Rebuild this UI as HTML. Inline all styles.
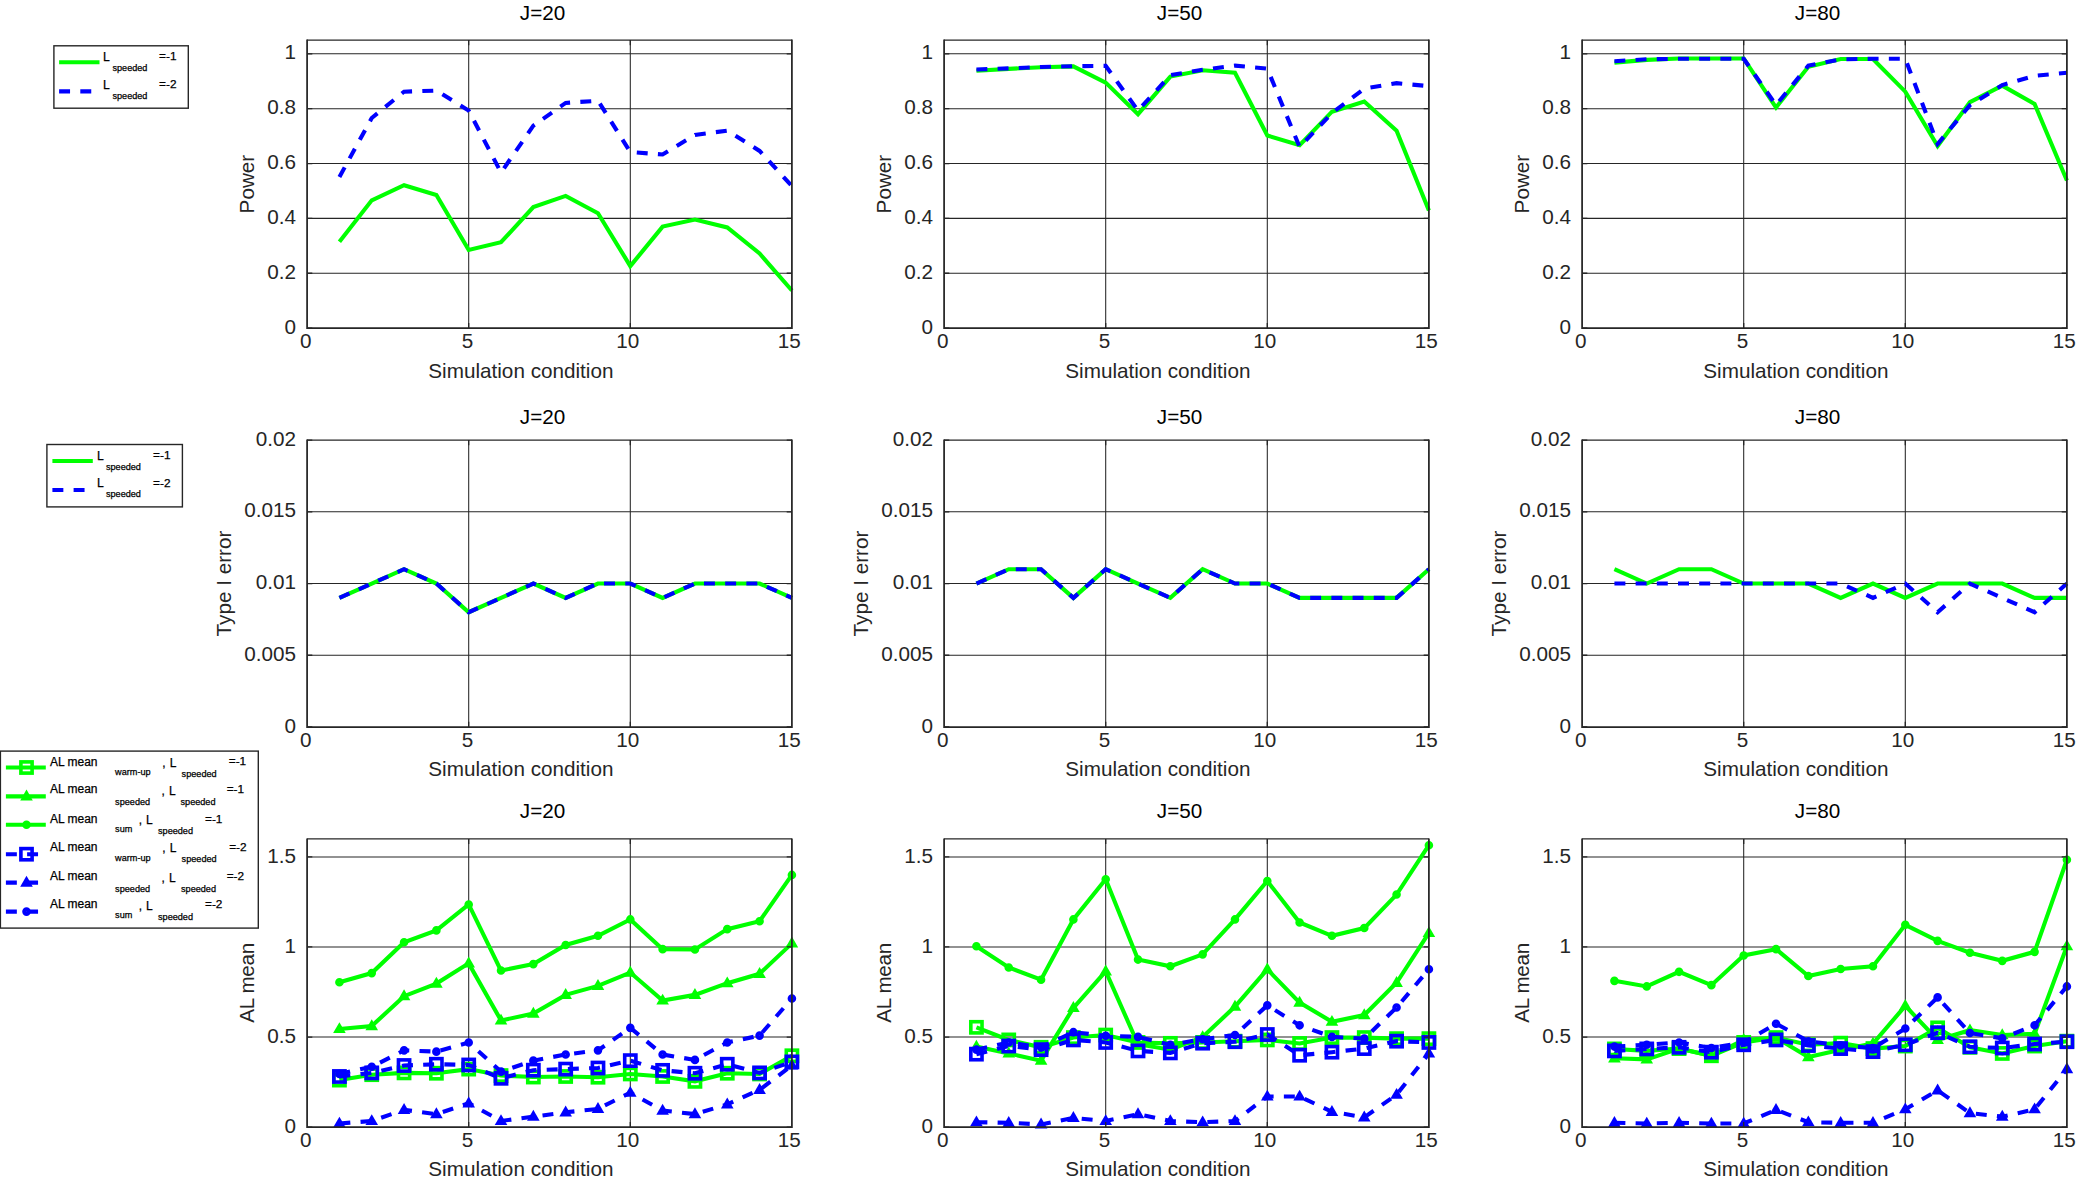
<!DOCTYPE html>
<html lang="en"><head><meta charset="utf-8"><title>Simulation results</title>
<style>html,body{margin:0;padding:0;background:#fff}svg{display:block}</style>
</head><body>
<svg width="2079" height="1183" viewBox="0 0 2079 1183" font-family="'Liberation Sans', Arial, Helvetica, sans-serif">
<rect width="2079" height="1183" fill="#fff"/>
<path d="M468.7 40.1V328.1M630.3 40.1V328.1M307.1 273.24H791.9M307.1 218.39H791.9M307.1 163.53H791.9M307.1 108.67H791.9M307.1 53.81H791.9" stroke="#262626" stroke-width="1.05" fill="none"/>
<clipPath id="c00"><rect x="299.1" y="32.1" width="500.8" height="304"/></clipPath>
<g clip-path="url(#c00)">
<polyline points="339.42,241.7 371.74,200.28 404.06,185.2 436.38,195.07 468.7,249.93 501.02,242.25 533.34,207.14 565.66,195.89 597.98,213.17 630.3,266.11 662.62,226.61 694.94,219.48 727.26,227.44 759.58,253.49 791.9,290.52" fill="none" stroke="#00ff00" stroke-width="4.1" stroke-linejoin="miter"/>
<polyline points="339.42,176.97 371.74,118 404.06,91.67 436.38,90.57 468.7,110.59 501.02,172.58 533.34,125.68 565.66,102.91 597.98,100.72 630.3,152.01 662.62,154.48 694.94,135 727.26,130.61 759.58,150.91 791.9,186.02" fill="none" stroke="#0000ff" stroke-width="4.1" stroke-linejoin="miter" stroke-dasharray="10.95 10.25"/>
</g>
<path d="M468.7 328.1v-5.2M468.7 40.1v5.2M630.3 328.1v-5.2M630.3 40.1v5.2M307.1 328.1h5.2M791.9 328.1h-5.2M307.1 273.24h5.2M791.9 273.24h-5.2M307.1 218.39h5.2M791.9 218.39h-5.2M307.1 163.53h5.2M791.9 163.53h-5.2M307.1 108.67h5.2M791.9 108.67h-5.2M307.1 53.81h5.2M791.9 53.81h-5.2" stroke="#262626" stroke-width="1.3" fill="none"/>
<path d="M307.1 40.1H791.9" fill="none" stroke="#262626" stroke-width="1.2"/>
<path d="M307.1 39.6V328.1H791.9V39.6" fill="none" stroke="#262626" stroke-width="1.75" stroke-linejoin="miter"/>
<text x="305.7" y="347.8" font-size="20.7" text-anchor="middle" fill="#262626">0</text>
<text x="467.4" y="347.8" font-size="20.7" text-anchor="middle" fill="#262626">5</text>
<text x="627.7" y="347.8" font-size="20.7" text-anchor="middle" fill="#262626">10</text>
<text x="789.3" y="347.8" font-size="20.7" text-anchor="middle" fill="#262626">15</text>
<text x="296.1" y="333.7" font-size="20.7" text-anchor="end" fill="#262626">0</text>
<text x="296.1" y="278.84" font-size="20.7" text-anchor="end" fill="#262626">0.2</text>
<text x="296.1" y="223.99" font-size="20.7" text-anchor="end" fill="#262626">0.4</text>
<text x="296.1" y="169.13" font-size="20.7" text-anchor="end" fill="#262626">0.6</text>
<text x="296.1" y="114.27" font-size="20.7" text-anchor="end" fill="#262626">0.8</text>
<text x="296.1" y="59.41" font-size="20.7" text-anchor="end" fill="#262626">1</text>
<text x="519.8" y="20.05" font-size="20.7" text-anchor="start" fill="#000">J=20</text>
<text x="428.3" y="377.8" font-size="20.7" text-anchor="start" fill="#262626">Simulation condition</text>
<text transform="translate(254 184.1) rotate(-90)" font-size="20.7" text-anchor="middle" fill="#262626">Power</text>
<path d="M1105.7 40.1V328.1M1267.3 40.1V328.1M944.1 273.24H1428.9M944.1 218.39H1428.9M944.1 163.53H1428.9M944.1 108.67H1428.9M944.1 53.81H1428.9" stroke="#262626" stroke-width="1.05" fill="none"/>
<clipPath id="c01"><rect x="936.1" y="32.1" width="500.8" height="304"/></clipPath>
<g clip-path="url(#c01)">
<polyline points="976.42,70.82 1008.74,68.9 1041.06,67.25 1073.38,66.43 1105.7,82.61 1138.02,114.16 1170.34,76.58 1202.66,70.27 1234.98,72.74 1267.3,135.55 1299.62,145.15 1331.94,111.69 1364.26,101.54 1396.58,130.61 1428.9,210.43" fill="none" stroke="#00ff00" stroke-width="4.1" stroke-linejoin="miter"/>
<polyline points="976.42,69.45 1008.74,68.35 1041.06,66.98 1073.38,66.16 1105.7,65.88 1138.02,110.59 1170.34,75.21 1202.66,69.72 1234.98,65.61 1267.3,68.63 1299.62,147.07 1331.94,113.06 1364.26,88.65 1396.58,83.16 1428.9,86.18" fill="none" stroke="#0000ff" stroke-width="4.1" stroke-linejoin="miter" stroke-dasharray="10.95 10.25"/>
</g>
<path d="M1105.7 328.1v-5.2M1105.7 40.1v5.2M1267.3 328.1v-5.2M1267.3 40.1v5.2M944.1 328.1h5.2M1428.9 328.1h-5.2M944.1 273.24h5.2M1428.9 273.24h-5.2M944.1 218.39h5.2M1428.9 218.39h-5.2M944.1 163.53h5.2M1428.9 163.53h-5.2M944.1 108.67h5.2M1428.9 108.67h-5.2M944.1 53.81h5.2M1428.9 53.81h-5.2" stroke="#262626" stroke-width="1.3" fill="none"/>
<path d="M944.1 40.1H1428.9" fill="none" stroke="#262626" stroke-width="1.2"/>
<path d="M944.1 39.6V328.1H1428.9V39.6" fill="none" stroke="#262626" stroke-width="1.75" stroke-linejoin="miter"/>
<text x="942.7" y="347.8" font-size="20.7" text-anchor="middle" fill="#262626">0</text>
<text x="1104.4" y="347.8" font-size="20.7" text-anchor="middle" fill="#262626">5</text>
<text x="1264.7" y="347.8" font-size="20.7" text-anchor="middle" fill="#262626">10</text>
<text x="1426.3" y="347.8" font-size="20.7" text-anchor="middle" fill="#262626">15</text>
<text x="933.1" y="333.7" font-size="20.7" text-anchor="end" fill="#262626">0</text>
<text x="933.1" y="278.84" font-size="20.7" text-anchor="end" fill="#262626">0.2</text>
<text x="933.1" y="223.99" font-size="20.7" text-anchor="end" fill="#262626">0.4</text>
<text x="933.1" y="169.13" font-size="20.7" text-anchor="end" fill="#262626">0.6</text>
<text x="933.1" y="114.27" font-size="20.7" text-anchor="end" fill="#262626">0.8</text>
<text x="933.1" y="59.41" font-size="20.7" text-anchor="end" fill="#262626">1</text>
<text x="1156.8" y="20.05" font-size="20.7" text-anchor="start" fill="#000">J=50</text>
<text x="1065.3" y="377.8" font-size="20.7" text-anchor="start" fill="#262626">Simulation condition</text>
<text transform="translate(891 184.1) rotate(-90)" font-size="20.7" text-anchor="middle" fill="#262626">Power</text>
<path d="M1743.7 40.1V328.1M1905.3 40.1V328.1M1582.1 273.24H2066.9M1582.1 218.39H2066.9M1582.1 163.53H2066.9M1582.1 108.67H2066.9M1582.1 53.81H2066.9" stroke="#262626" stroke-width="1.05" fill="none"/>
<clipPath id="c02"><rect x="1574.1" y="32.1" width="500.8" height="304"/></clipPath>
<g clip-path="url(#c02)">
<polyline points="1614.42,62.59 1646.74,59.85 1679.06,58.48 1711.38,58.48 1743.7,58.48 1776.02,107.57 1808.34,66.71 1840.66,59.03 1872.98,59.03 1905.3,91.67 1937.62,145.97 1969.94,102.09 2002.26,85.63 2034.58,104.01 2066.9,180.53" fill="none" stroke="#00ff00" stroke-width="4.1" stroke-linejoin="miter"/>
<polyline points="1614.42,61.22 1646.74,59.3 1679.06,58.75 1711.38,58.75 1743.7,58.75 1776.02,105.11 1808.34,65.61 1840.66,59.3 1872.98,58.75 1905.3,58.75 1937.62,144.05 1969.94,105.11 2002.26,85.08 2034.58,75.76 2066.9,72.74" fill="none" stroke="#0000ff" stroke-width="4.1" stroke-linejoin="miter" stroke-dasharray="10.95 10.25"/>
</g>
<path d="M1743.7 328.1v-5.2M1743.7 40.1v5.2M1905.3 328.1v-5.2M1905.3 40.1v5.2M1582.1 328.1h5.2M2066.9 328.1h-5.2M1582.1 273.24h5.2M2066.9 273.24h-5.2M1582.1 218.39h5.2M2066.9 218.39h-5.2M1582.1 163.53h5.2M2066.9 163.53h-5.2M1582.1 108.67h5.2M2066.9 108.67h-5.2M1582.1 53.81h5.2M2066.9 53.81h-5.2" stroke="#262626" stroke-width="1.3" fill="none"/>
<path d="M1582.1 40.1H2066.9" fill="none" stroke="#262626" stroke-width="1.2"/>
<path d="M1582.1 39.6V328.1H2066.9V39.6" fill="none" stroke="#262626" stroke-width="1.75" stroke-linejoin="miter"/>
<text x="1580.7" y="347.8" font-size="20.7" text-anchor="middle" fill="#262626">0</text>
<text x="1742.4" y="347.8" font-size="20.7" text-anchor="middle" fill="#262626">5</text>
<text x="1902.7" y="347.8" font-size="20.7" text-anchor="middle" fill="#262626">10</text>
<text x="2064.3" y="347.8" font-size="20.7" text-anchor="middle" fill="#262626">15</text>
<text x="1571.1" y="333.7" font-size="20.7" text-anchor="end" fill="#262626">0</text>
<text x="1571.1" y="278.84" font-size="20.7" text-anchor="end" fill="#262626">0.2</text>
<text x="1571.1" y="223.99" font-size="20.7" text-anchor="end" fill="#262626">0.4</text>
<text x="1571.1" y="169.13" font-size="20.7" text-anchor="end" fill="#262626">0.6</text>
<text x="1571.1" y="114.27" font-size="20.7" text-anchor="end" fill="#262626">0.8</text>
<text x="1571.1" y="59.41" font-size="20.7" text-anchor="end" fill="#262626">1</text>
<text x="1794.8" y="20.05" font-size="20.7" text-anchor="start" fill="#000">J=80</text>
<text x="1703.3" y="377.8" font-size="20.7" text-anchor="start" fill="#262626">Simulation condition</text>
<text transform="translate(1529 184.1) rotate(-90)" font-size="20.7" text-anchor="middle" fill="#262626">Power</text>
<path d="M468.7 440.1V727M630.3 440.1V727M307.1 655.27H791.9M307.1 583.55H791.9M307.1 511.83H791.9" stroke="#262626" stroke-width="1.05" fill="none"/>
<clipPath id="c10"><rect x="299.1" y="432.1" width="500.8" height="302.9"/></clipPath>
<g clip-path="url(#c10)">
<polyline points="339.42,597.89 371.74,583.55 404.06,569.21 436.38,583.55 468.7,612.24 501.02,597.89 533.34,583.55 565.66,597.89 597.98,583.55 630.3,583.55 662.62,597.89 694.94,583.55 727.26,583.55 759.58,583.55 791.9,597.89" fill="none" stroke="#00ff00" stroke-width="4.1" stroke-linejoin="miter"/>
<polyline points="339.42,597.89 371.74,583.55 404.06,569.21 436.38,583.55 468.7,612.24 501.02,597.89 533.34,583.55 565.66,597.89 597.98,583.55 630.3,583.55 662.62,597.89 694.94,583.55 727.26,583.55 759.58,583.55 791.9,597.89" fill="none" stroke="#0000ff" stroke-width="4.1" stroke-linejoin="miter" stroke-dasharray="10.95 10.25"/>
</g>
<path d="M468.7 727v-5.2M468.7 440.1v5.2M630.3 727v-5.2M630.3 440.1v5.2M307.1 727h5.2M791.9 727h-5.2M307.1 655.27h5.2M791.9 655.27h-5.2M307.1 583.55h5.2M791.9 583.55h-5.2M307.1 511.83h5.2M791.9 511.83h-5.2M307.1 440.1h5.2M791.9 440.1h-5.2" stroke="#262626" stroke-width="1.3" fill="none"/>
<path d="M307.1 440.1H791.9" fill="none" stroke="#262626" stroke-width="1.2"/>
<path d="M307.1 439.6V727H791.9V439.6" fill="none" stroke="#262626" stroke-width="1.75" stroke-linejoin="miter"/>
<text x="305.7" y="746.7" font-size="20.7" text-anchor="middle" fill="#262626">0</text>
<text x="467.4" y="746.7" font-size="20.7" text-anchor="middle" fill="#262626">5</text>
<text x="627.7" y="746.7" font-size="20.7" text-anchor="middle" fill="#262626">10</text>
<text x="789.3" y="746.7" font-size="20.7" text-anchor="middle" fill="#262626">15</text>
<text x="296.1" y="732.6" font-size="20.7" text-anchor="end" fill="#262626">0</text>
<text x="296.1" y="660.88" font-size="20.7" text-anchor="end" fill="#262626">0.005</text>
<text x="296.1" y="589.15" font-size="20.7" text-anchor="end" fill="#262626">0.01</text>
<text x="296.1" y="517.43" font-size="20.7" text-anchor="end" fill="#262626">0.015</text>
<text x="296.1" y="445.7" font-size="20.7" text-anchor="end" fill="#262626">0.02</text>
<text x="519.8" y="423.95" font-size="20.7" text-anchor="start" fill="#000">J=20</text>
<text x="428.3" y="776" font-size="20.7" text-anchor="start" fill="#262626">Simulation condition</text>
<text transform="translate(231.2 583.55) rotate(-90)" font-size="20.7" text-anchor="middle" fill="#262626">Type I error</text>
<path d="M1105.7 440.1V727M1267.3 440.1V727M944.1 655.27H1428.9M944.1 583.55H1428.9M944.1 511.83H1428.9" stroke="#262626" stroke-width="1.05" fill="none"/>
<clipPath id="c11"><rect x="936.1" y="432.1" width="500.8" height="302.9"/></clipPath>
<g clip-path="url(#c11)">
<polyline points="976.42,583.55 1008.74,569.21 1041.06,569.21 1073.38,597.89 1105.7,569.21 1138.02,583.55 1170.34,597.89 1202.66,569.21 1234.98,583.55 1267.3,583.55 1299.62,597.89 1331.94,597.89 1364.26,597.89 1396.58,597.89 1428.9,569.21" fill="none" stroke="#00ff00" stroke-width="4.1" stroke-linejoin="miter"/>
<polyline points="976.42,583.55 1008.74,569.21 1041.06,569.21 1073.38,597.89 1105.7,569.21 1138.02,583.55 1170.34,597.89 1202.66,569.21 1234.98,583.55 1267.3,583.55 1299.62,597.89 1331.94,597.89 1364.26,597.89 1396.58,597.89 1428.9,569.21" fill="none" stroke="#0000ff" stroke-width="4.1" stroke-linejoin="miter" stroke-dasharray="10.95 10.25"/>
</g>
<path d="M1105.7 727v-5.2M1105.7 440.1v5.2M1267.3 727v-5.2M1267.3 440.1v5.2M944.1 727h5.2M1428.9 727h-5.2M944.1 655.27h5.2M1428.9 655.27h-5.2M944.1 583.55h5.2M1428.9 583.55h-5.2M944.1 511.83h5.2M1428.9 511.83h-5.2M944.1 440.1h5.2M1428.9 440.1h-5.2" stroke="#262626" stroke-width="1.3" fill="none"/>
<path d="M944.1 440.1H1428.9" fill="none" stroke="#262626" stroke-width="1.2"/>
<path d="M944.1 439.6V727H1428.9V439.6" fill="none" stroke="#262626" stroke-width="1.75" stroke-linejoin="miter"/>
<text x="942.7" y="746.7" font-size="20.7" text-anchor="middle" fill="#262626">0</text>
<text x="1104.4" y="746.7" font-size="20.7" text-anchor="middle" fill="#262626">5</text>
<text x="1264.7" y="746.7" font-size="20.7" text-anchor="middle" fill="#262626">10</text>
<text x="1426.3" y="746.7" font-size="20.7" text-anchor="middle" fill="#262626">15</text>
<text x="933.1" y="732.6" font-size="20.7" text-anchor="end" fill="#262626">0</text>
<text x="933.1" y="660.88" font-size="20.7" text-anchor="end" fill="#262626">0.005</text>
<text x="933.1" y="589.15" font-size="20.7" text-anchor="end" fill="#262626">0.01</text>
<text x="933.1" y="517.43" font-size="20.7" text-anchor="end" fill="#262626">0.015</text>
<text x="933.1" y="445.7" font-size="20.7" text-anchor="end" fill="#262626">0.02</text>
<text x="1156.8" y="423.95" font-size="20.7" text-anchor="start" fill="#000">J=50</text>
<text x="1065.3" y="776" font-size="20.7" text-anchor="start" fill="#262626">Simulation condition</text>
<text transform="translate(868.2 583.55) rotate(-90)" font-size="20.7" text-anchor="middle" fill="#262626">Type I error</text>
<path d="M1743.7 440.1V727M1905.3 440.1V727M1582.1 655.27H2066.9M1582.1 583.55H2066.9M1582.1 511.83H2066.9" stroke="#262626" stroke-width="1.05" fill="none"/>
<clipPath id="c12"><rect x="1574.1" y="432.1" width="500.8" height="302.9"/></clipPath>
<g clip-path="url(#c12)">
<polyline points="1614.42,569.21 1646.74,583.55 1679.06,569.21 1711.38,569.21 1743.7,583.55 1776.02,583.55 1808.34,583.55 1840.66,597.89 1872.98,583.55 1905.3,597.89 1937.62,583.55 1969.94,583.55 2002.26,583.55 2034.58,597.89 2066.9,597.89" fill="none" stroke="#00ff00" stroke-width="4.1" stroke-linejoin="miter"/>
<polyline points="1614.42,583.55 1646.74,583.55 1679.06,583.55 1711.38,583.55 1743.7,583.55 1776.02,583.55 1808.34,583.55 1840.66,583.55 1872.98,597.89 1905.3,583.55 1937.62,612.24 1969.94,583.55 2002.26,597.89 2034.58,612.24 2066.9,583.55" fill="none" stroke="#0000ff" stroke-width="4.1" stroke-linejoin="miter" stroke-dasharray="10.95 10.25"/>
</g>
<path d="M1743.7 727v-5.2M1743.7 440.1v5.2M1905.3 727v-5.2M1905.3 440.1v5.2M1582.1 727h5.2M2066.9 727h-5.2M1582.1 655.27h5.2M2066.9 655.27h-5.2M1582.1 583.55h5.2M2066.9 583.55h-5.2M1582.1 511.83h5.2M2066.9 511.83h-5.2M1582.1 440.1h5.2M2066.9 440.1h-5.2" stroke="#262626" stroke-width="1.3" fill="none"/>
<path d="M1582.1 440.1H2066.9" fill="none" stroke="#262626" stroke-width="1.2"/>
<path d="M1582.1 439.6V727H2066.9V439.6" fill="none" stroke="#262626" stroke-width="1.75" stroke-linejoin="miter"/>
<text x="1580.7" y="746.7" font-size="20.7" text-anchor="middle" fill="#262626">0</text>
<text x="1742.4" y="746.7" font-size="20.7" text-anchor="middle" fill="#262626">5</text>
<text x="1902.7" y="746.7" font-size="20.7" text-anchor="middle" fill="#262626">10</text>
<text x="2064.3" y="746.7" font-size="20.7" text-anchor="middle" fill="#262626">15</text>
<text x="1571.1" y="732.6" font-size="20.7" text-anchor="end" fill="#262626">0</text>
<text x="1571.1" y="660.88" font-size="20.7" text-anchor="end" fill="#262626">0.005</text>
<text x="1571.1" y="589.15" font-size="20.7" text-anchor="end" fill="#262626">0.01</text>
<text x="1571.1" y="517.43" font-size="20.7" text-anchor="end" fill="#262626">0.015</text>
<text x="1571.1" y="445.7" font-size="20.7" text-anchor="end" fill="#262626">0.02</text>
<text x="1794.8" y="423.95" font-size="20.7" text-anchor="start" fill="#000">J=80</text>
<text x="1703.3" y="776" font-size="20.7" text-anchor="start" fill="#262626">Simulation condition</text>
<text transform="translate(1506.2 583.55) rotate(-90)" font-size="20.7" text-anchor="middle" fill="#262626">Type I error</text>
<path d="M468.7 838.9V1127.1M630.3 838.9V1127.1M307.1 1037.04H791.9M307.1 946.97H791.9M307.1 856.91H791.9" stroke="#262626" stroke-width="1.05" fill="none"/>
<clipPath id="c20"><rect x="299.1" y="830.9" width="500.8" height="304.2"/></clipPath>
<g clip-path="url(#c20)">
<polyline points="339.42,1080.09 371.74,1074.68 404.06,1072.88 436.38,1073.24 468.7,1069.1 501.02,1075.58 533.34,1077.03 565.66,1076.48 597.98,1077.21 630.3,1073.96 662.62,1076.48 694.94,1081.35 727.26,1073.24 759.58,1073.96 791.9,1055.77" fill="none" stroke="#00ff00" stroke-width="4.1" stroke-linejoin="miter"/>
<rect x="333.82" y="1074.49" width="11.2" height="11.2" fill="none" stroke="#00ff00" stroke-width="3.6"/>
<rect x="366.14" y="1069.08" width="11.2" height="11.2" fill="none" stroke="#00ff00" stroke-width="3.6"/>
<rect x="398.46" y="1067.28" width="11.2" height="11.2" fill="none" stroke="#00ff00" stroke-width="3.6"/>
<rect x="430.78" y="1067.64" width="11.2" height="11.2" fill="none" stroke="#00ff00" stroke-width="3.6"/>
<rect x="463.1" y="1063.5" width="11.2" height="11.2" fill="none" stroke="#00ff00" stroke-width="3.6"/>
<rect x="495.42" y="1069.98" width="11.2" height="11.2" fill="none" stroke="#00ff00" stroke-width="3.6"/>
<rect x="527.74" y="1071.43" width="11.2" height="11.2" fill="none" stroke="#00ff00" stroke-width="3.6"/>
<rect x="560.06" y="1070.88" width="11.2" height="11.2" fill="none" stroke="#00ff00" stroke-width="3.6"/>
<rect x="592.38" y="1071.61" width="11.2" height="11.2" fill="none" stroke="#00ff00" stroke-width="3.6"/>
<rect x="624.7" y="1068.36" width="11.2" height="11.2" fill="none" stroke="#00ff00" stroke-width="3.6"/>
<rect x="657.02" y="1070.88" width="11.2" height="11.2" fill="none" stroke="#00ff00" stroke-width="3.6"/>
<rect x="689.34" y="1075.75" width="11.2" height="11.2" fill="none" stroke="#00ff00" stroke-width="3.6"/>
<rect x="721.66" y="1067.64" width="11.2" height="11.2" fill="none" stroke="#00ff00" stroke-width="3.6"/>
<rect x="753.98" y="1068.36" width="11.2" height="11.2" fill="none" stroke="#00ff00" stroke-width="3.6"/>
<rect x="786.3" y="1050.17" width="11.2" height="11.2" fill="none" stroke="#00ff00" stroke-width="3.6"/>
<polyline points="339.42,1028.93 371.74,1026.05 404.06,996.15 436.38,983.54 468.7,963.37 501.02,1020.47 533.34,1013.62 565.66,994.89 597.98,985.88 630.3,972.55 662.62,1000.47 694.94,994.89 727.26,983.18 759.58,973.81 791.9,943.37" fill="none" stroke="#00ff00" stroke-width="4.1" stroke-linejoin="miter"/>
<path d="M339.42 1022.13L345.72 1033.03H333.12Z" fill="#00ff00"/>
<path d="M371.74 1019.25L378.04 1030.15H365.44Z" fill="#00ff00"/>
<path d="M404.06 989.35L410.36 1000.25H397.76Z" fill="#00ff00"/>
<path d="M436.38 976.74L442.68 987.64H430.08Z" fill="#00ff00"/>
<path d="M468.7 956.57L475 967.47H462.4Z" fill="#00ff00"/>
<path d="M501.02 1013.67L507.32 1024.57H494.72Z" fill="#00ff00"/>
<path d="M533.34 1006.82L539.64 1017.72H527.04Z" fill="#00ff00"/>
<path d="M565.66 988.09L571.96 998.99H559.36Z" fill="#00ff00"/>
<path d="M597.98 979.08L604.28 989.98H591.68Z" fill="#00ff00"/>
<path d="M630.3 965.75L636.6 976.65H624Z" fill="#00ff00"/>
<path d="M662.62 993.67L668.92 1004.57H656.32Z" fill="#00ff00"/>
<path d="M694.94 988.09L701.24 998.99H688.64Z" fill="#00ff00"/>
<path d="M727.26 976.38L733.56 987.28H720.96Z" fill="#00ff00"/>
<path d="M759.58 967.01L765.88 977.91H753.28Z" fill="#00ff00"/>
<path d="M791.9 936.57L798.2 947.47H785.6Z" fill="#00ff00"/>
<polyline points="339.42,982.28 371.74,973.09 404.06,942.29 436.38,930.4 468.7,904.47 501.02,970.57 533.34,964.09 565.66,944.99 597.98,935.81 630.3,919.42 662.62,949.14 694.94,949.5 727.26,929.14 759.58,921.22 791.9,874.92" fill="none" stroke="#00ff00" stroke-width="4.1" stroke-linejoin="miter"/>
<circle cx="339.42" cy="982.28" r="2.25" fill="none" stroke="#00ff00" stroke-width="4.1"/>
<circle cx="371.74" cy="973.09" r="2.25" fill="none" stroke="#00ff00" stroke-width="4.1"/>
<circle cx="404.06" cy="942.29" r="2.25" fill="none" stroke="#00ff00" stroke-width="4.1"/>
<circle cx="436.38" cy="930.4" r="2.25" fill="none" stroke="#00ff00" stroke-width="4.1"/>
<circle cx="468.7" cy="904.47" r="2.25" fill="none" stroke="#00ff00" stroke-width="4.1"/>
<circle cx="501.02" cy="970.57" r="2.25" fill="none" stroke="#00ff00" stroke-width="4.1"/>
<circle cx="533.34" cy="964.09" r="2.25" fill="none" stroke="#00ff00" stroke-width="4.1"/>
<circle cx="565.66" cy="944.99" r="2.25" fill="none" stroke="#00ff00" stroke-width="4.1"/>
<circle cx="597.98" cy="935.81" r="2.25" fill="none" stroke="#00ff00" stroke-width="4.1"/>
<circle cx="630.3" cy="919.42" r="2.25" fill="none" stroke="#00ff00" stroke-width="4.1"/>
<circle cx="662.62" cy="949.14" r="2.25" fill="none" stroke="#00ff00" stroke-width="4.1"/>
<circle cx="694.94" cy="949.5" r="2.25" fill="none" stroke="#00ff00" stroke-width="4.1"/>
<circle cx="727.26" cy="929.14" r="2.25" fill="none" stroke="#00ff00" stroke-width="4.1"/>
<circle cx="759.58" cy="921.22" r="2.25" fill="none" stroke="#00ff00" stroke-width="4.1"/>
<circle cx="791.9" cy="874.92" r="2.25" fill="none" stroke="#00ff00" stroke-width="4.1"/>
<polyline points="339.42,1076.48 371.74,1072.88 404.06,1065.5 436.38,1064.24 468.7,1064.96 501.02,1078.29 533.34,1070.18 565.66,1069.1 597.98,1068.02 630.3,1060.63 662.62,1070.36 694.94,1073.24 727.26,1064.24 759.58,1072.88 791.9,1061.89" fill="none" stroke="#0000ff" stroke-width="4.1" stroke-linejoin="miter" stroke-dasharray="10.95 10.25"/>
<rect x="333.82" y="1070.88" width="11.2" height="11.2" fill="none" stroke="#0000ff" stroke-width="3.6"/>
<rect x="366.14" y="1067.28" width="11.2" height="11.2" fill="none" stroke="#0000ff" stroke-width="3.6"/>
<rect x="398.46" y="1059.9" width="11.2" height="11.2" fill="none" stroke="#0000ff" stroke-width="3.6"/>
<rect x="430.78" y="1058.64" width="11.2" height="11.2" fill="none" stroke="#0000ff" stroke-width="3.6"/>
<rect x="463.1" y="1059.36" width="11.2" height="11.2" fill="none" stroke="#0000ff" stroke-width="3.6"/>
<rect x="495.42" y="1072.69" width="11.2" height="11.2" fill="none" stroke="#0000ff" stroke-width="3.6"/>
<rect x="527.74" y="1064.58" width="11.2" height="11.2" fill="none" stroke="#0000ff" stroke-width="3.6"/>
<rect x="560.06" y="1063.5" width="11.2" height="11.2" fill="none" stroke="#0000ff" stroke-width="3.6"/>
<rect x="592.38" y="1062.42" width="11.2" height="11.2" fill="none" stroke="#0000ff" stroke-width="3.6"/>
<rect x="624.7" y="1055.03" width="11.2" height="11.2" fill="none" stroke="#0000ff" stroke-width="3.6"/>
<rect x="657.02" y="1064.76" width="11.2" height="11.2" fill="none" stroke="#0000ff" stroke-width="3.6"/>
<rect x="689.34" y="1067.64" width="11.2" height="11.2" fill="none" stroke="#0000ff" stroke-width="3.6"/>
<rect x="721.66" y="1058.64" width="11.2" height="11.2" fill="none" stroke="#0000ff" stroke-width="3.6"/>
<rect x="753.98" y="1067.28" width="11.2" height="11.2" fill="none" stroke="#0000ff" stroke-width="3.6"/>
<rect x="786.3" y="1056.29" width="11.2" height="11.2" fill="none" stroke="#0000ff" stroke-width="3.6"/>
<polyline points="339.42,1123.5 371.74,1120.98 404.06,1109.81 436.38,1114.13 468.7,1103.32 501.02,1120.98 533.34,1116.65 565.66,1112.33 597.98,1108.91 630.3,1092.7 662.62,1110.53 694.94,1114.13 727.26,1104.4 759.58,1089.81 791.9,1065.5" fill="none" stroke="#0000ff" stroke-width="4.1" stroke-linejoin="miter" stroke-dasharray="10.95 10.25"/>
<path d="M339.42 1116.7L345.72 1127.6H333.12Z" fill="#0000ff"/>
<path d="M371.74 1114.18L378.04 1125.08H365.44Z" fill="#0000ff"/>
<path d="M404.06 1103.01L410.36 1113.91H397.76Z" fill="#0000ff"/>
<path d="M436.38 1107.33L442.68 1118.23H430.08Z" fill="#0000ff"/>
<path d="M468.7 1096.52L475 1107.42H462.4Z" fill="#0000ff"/>
<path d="M501.02 1114.18L507.32 1125.08H494.72Z" fill="#0000ff"/>
<path d="M533.34 1109.85L539.64 1120.75H527.04Z" fill="#0000ff"/>
<path d="M565.66 1105.53L571.96 1116.43H559.36Z" fill="#0000ff"/>
<path d="M597.98 1102.11L604.28 1113.01H591.68Z" fill="#0000ff"/>
<path d="M630.3 1085.9L636.6 1096.8H624Z" fill="#0000ff"/>
<path d="M662.62 1103.73L668.92 1114.63H656.32Z" fill="#0000ff"/>
<path d="M694.94 1107.33L701.24 1118.23H688.64Z" fill="#0000ff"/>
<path d="M727.26 1097.6L733.56 1108.5H720.96Z" fill="#0000ff"/>
<path d="M759.58 1083.01L765.88 1093.91H753.28Z" fill="#0000ff"/>
<path d="M791.9 1058.7L798.2 1069.6H785.6Z" fill="#0000ff"/>
<polyline points="339.42,1073.96 371.74,1066.76 404.06,1050.37 436.38,1051.63 468.7,1042.44 501.02,1071.62 533.34,1060.63 565.66,1054.51 597.98,1050.37 630.3,1027.85 662.62,1054.51 694.94,1059.91 727.26,1042.44 759.58,1035.6 791.9,998.49" fill="none" stroke="#0000ff" stroke-width="4.1" stroke-linejoin="miter" stroke-dasharray="10.95 10.25"/>
<circle cx="339.42" cy="1073.96" r="2.25" fill="none" stroke="#0000ff" stroke-width="4.1"/>
<circle cx="371.74" cy="1066.76" r="2.25" fill="none" stroke="#0000ff" stroke-width="4.1"/>
<circle cx="404.06" cy="1050.37" r="2.25" fill="none" stroke="#0000ff" stroke-width="4.1"/>
<circle cx="436.38" cy="1051.63" r="2.25" fill="none" stroke="#0000ff" stroke-width="4.1"/>
<circle cx="468.7" cy="1042.44" r="2.25" fill="none" stroke="#0000ff" stroke-width="4.1"/>
<circle cx="501.02" cy="1071.62" r="2.25" fill="none" stroke="#0000ff" stroke-width="4.1"/>
<circle cx="533.34" cy="1060.63" r="2.25" fill="none" stroke="#0000ff" stroke-width="4.1"/>
<circle cx="565.66" cy="1054.51" r="2.25" fill="none" stroke="#0000ff" stroke-width="4.1"/>
<circle cx="597.98" cy="1050.37" r="2.25" fill="none" stroke="#0000ff" stroke-width="4.1"/>
<circle cx="630.3" cy="1027.85" r="2.25" fill="none" stroke="#0000ff" stroke-width="4.1"/>
<circle cx="662.62" cy="1054.51" r="2.25" fill="none" stroke="#0000ff" stroke-width="4.1"/>
<circle cx="694.94" cy="1059.91" r="2.25" fill="none" stroke="#0000ff" stroke-width="4.1"/>
<circle cx="727.26" cy="1042.44" r="2.25" fill="none" stroke="#0000ff" stroke-width="4.1"/>
<circle cx="759.58" cy="1035.6" r="2.25" fill="none" stroke="#0000ff" stroke-width="4.1"/>
<circle cx="791.9" cy="998.49" r="2.25" fill="none" stroke="#0000ff" stroke-width="4.1"/>
</g>
<path d="M468.7 1127.1v-5.2M468.7 838.9v5.2M630.3 1127.1v-5.2M630.3 838.9v5.2M307.1 1127.1h5.2M791.9 1127.1h-5.2M307.1 1037.04h5.2M791.9 1037.04h-5.2M307.1 946.97h5.2M791.9 946.97h-5.2M307.1 856.91h5.2M791.9 856.91h-5.2" stroke="#262626" stroke-width="1.3" fill="none"/>
<path d="M307.1 838.9H791.9" fill="none" stroke="#262626" stroke-width="1.2"/>
<path d="M307.1 838.4V1127.1H791.9V838.4" fill="none" stroke="#262626" stroke-width="1.75" stroke-linejoin="miter"/>
<text x="305.7" y="1146.8" font-size="20.7" text-anchor="middle" fill="#262626">0</text>
<text x="467.4" y="1146.8" font-size="20.7" text-anchor="middle" fill="#262626">5</text>
<text x="627.7" y="1146.8" font-size="20.7" text-anchor="middle" fill="#262626">10</text>
<text x="789.3" y="1146.8" font-size="20.7" text-anchor="middle" fill="#262626">15</text>
<text x="296.1" y="1132.7" font-size="20.7" text-anchor="end" fill="#262626">0</text>
<text x="296.1" y="1042.64" font-size="20.7" text-anchor="end" fill="#262626">0.5</text>
<text x="296.1" y="952.57" font-size="20.7" text-anchor="end" fill="#262626">1</text>
<text x="296.1" y="862.51" font-size="20.7" text-anchor="end" fill="#262626">1.5</text>
<text x="519.8" y="817.95" font-size="20.7" text-anchor="start" fill="#000">J=20</text>
<text x="428.3" y="1175.7" font-size="20.7" text-anchor="start" fill="#262626">Simulation condition</text>
<text transform="translate(254 983) rotate(-90)" font-size="20.7" text-anchor="middle" fill="#262626" letter-spacing="-0.35">AL mean</text>
<path d="M1105.7 838.9V1127.1M1267.3 838.9V1127.1M944.1 1037.04H1428.9M944.1 946.97H1428.9M944.1 856.91H1428.9" stroke="#262626" stroke-width="1.05" fill="none"/>
<clipPath id="c21"><rect x="936.1" y="830.9" width="500.8" height="304.2"/></clipPath>
<g clip-path="url(#c21)">
<polyline points="976.42,1027.31 1008.74,1039.92 1041.06,1047.3 1073.38,1037.58 1105.7,1035.06 1138.02,1042.44 1170.34,1043.34 1202.66,1042.44 1234.98,1041.18 1267.3,1039.92 1299.62,1043.52 1331.94,1037.58 1364.26,1037.58 1396.58,1038.66 1428.9,1038.66" fill="none" stroke="#00ff00" stroke-width="4.1" stroke-linejoin="miter"/>
<rect x="970.82" y="1021.71" width="11.2" height="11.2" fill="none" stroke="#00ff00" stroke-width="3.6"/>
<rect x="1003.14" y="1034.32" width="11.2" height="11.2" fill="none" stroke="#00ff00" stroke-width="3.6"/>
<rect x="1035.46" y="1041.7" width="11.2" height="11.2" fill="none" stroke="#00ff00" stroke-width="3.6"/>
<rect x="1067.78" y="1031.98" width="11.2" height="11.2" fill="none" stroke="#00ff00" stroke-width="3.6"/>
<rect x="1100.1" y="1029.46" width="11.2" height="11.2" fill="none" stroke="#00ff00" stroke-width="3.6"/>
<rect x="1132.42" y="1036.84" width="11.2" height="11.2" fill="none" stroke="#00ff00" stroke-width="3.6"/>
<rect x="1164.74" y="1037.74" width="11.2" height="11.2" fill="none" stroke="#00ff00" stroke-width="3.6"/>
<rect x="1197.06" y="1036.84" width="11.2" height="11.2" fill="none" stroke="#00ff00" stroke-width="3.6"/>
<rect x="1229.38" y="1035.58" width="11.2" height="11.2" fill="none" stroke="#00ff00" stroke-width="3.6"/>
<rect x="1261.7" y="1034.32" width="11.2" height="11.2" fill="none" stroke="#00ff00" stroke-width="3.6"/>
<rect x="1294.02" y="1037.92" width="11.2" height="11.2" fill="none" stroke="#00ff00" stroke-width="3.6"/>
<rect x="1326.34" y="1031.98" width="11.2" height="11.2" fill="none" stroke="#00ff00" stroke-width="3.6"/>
<rect x="1358.66" y="1031.98" width="11.2" height="11.2" fill="none" stroke="#00ff00" stroke-width="3.6"/>
<rect x="1390.98" y="1033.06" width="11.2" height="11.2" fill="none" stroke="#00ff00" stroke-width="3.6"/>
<rect x="1423.3" y="1033.06" width="11.2" height="11.2" fill="none" stroke="#00ff00" stroke-width="3.6"/>
<polyline points="976.42,1046.58 1008.74,1053.43 1041.06,1060.63 1073.38,1007.86 1105.7,971.29 1138.02,1044.24 1170.34,1049.65 1202.66,1037.04 1234.98,1006.6 1267.3,969.31 1299.62,1002.63 1331.94,1021.73 1364.26,1015.06 1396.58,982.82 1428.9,932.93" fill="none" stroke="#00ff00" stroke-width="4.1" stroke-linejoin="miter"/>
<path d="M976.42 1039.78L982.72 1050.68H970.12Z" fill="#00ff00"/>
<path d="M1008.74 1046.63L1015.04 1057.53H1002.44Z" fill="#00ff00"/>
<path d="M1041.06 1053.83L1047.36 1064.73H1034.76Z" fill="#00ff00"/>
<path d="M1073.38 1001.06L1079.68 1011.96H1067.08Z" fill="#00ff00"/>
<path d="M1105.7 964.49L1112 975.39H1099.4Z" fill="#00ff00"/>
<path d="M1138.02 1037.44L1144.32 1048.34H1131.72Z" fill="#00ff00"/>
<path d="M1170.34 1042.85L1176.64 1053.75H1164.04Z" fill="#00ff00"/>
<path d="M1202.66 1030.24L1208.96 1041.14H1196.36Z" fill="#00ff00"/>
<path d="M1234.98 999.8L1241.28 1010.7H1228.68Z" fill="#00ff00"/>
<path d="M1267.3 962.51L1273.6 973.41H1261Z" fill="#00ff00"/>
<path d="M1299.62 995.83L1305.92 1006.73H1293.32Z" fill="#00ff00"/>
<path d="M1331.94 1014.93L1338.24 1025.83H1325.64Z" fill="#00ff00"/>
<path d="M1364.26 1008.26L1370.56 1019.16H1357.96Z" fill="#00ff00"/>
<path d="M1396.58 976.02L1402.88 986.92H1390.28Z" fill="#00ff00"/>
<path d="M1428.9 926.13L1435.2 937.03H1422.6Z" fill="#00ff00"/>
<polyline points="976.42,946.25 1008.74,967.51 1041.06,979.76 1073.38,919.42 1105.7,879.25 1138.02,959.58 1170.34,966.25 1202.66,954.36 1234.98,919.42 1267.3,881.05 1299.62,922.48 1331.94,935.81 1364.26,928.06 1396.58,894.56 1428.9,845.2" fill="none" stroke="#00ff00" stroke-width="4.1" stroke-linejoin="miter"/>
<circle cx="976.42" cy="946.25" r="2.25" fill="none" stroke="#00ff00" stroke-width="4.1"/>
<circle cx="1008.74" cy="967.51" r="2.25" fill="none" stroke="#00ff00" stroke-width="4.1"/>
<circle cx="1041.06" cy="979.76" r="2.25" fill="none" stroke="#00ff00" stroke-width="4.1"/>
<circle cx="1073.38" cy="919.42" r="2.25" fill="none" stroke="#00ff00" stroke-width="4.1"/>
<circle cx="1105.7" cy="879.25" r="2.25" fill="none" stroke="#00ff00" stroke-width="4.1"/>
<circle cx="1138.02" cy="959.58" r="2.25" fill="none" stroke="#00ff00" stroke-width="4.1"/>
<circle cx="1170.34" cy="966.25" r="2.25" fill="none" stroke="#00ff00" stroke-width="4.1"/>
<circle cx="1202.66" cy="954.36" r="2.25" fill="none" stroke="#00ff00" stroke-width="4.1"/>
<circle cx="1234.98" cy="919.42" r="2.25" fill="none" stroke="#00ff00" stroke-width="4.1"/>
<circle cx="1267.3" cy="881.05" r="2.25" fill="none" stroke="#00ff00" stroke-width="4.1"/>
<circle cx="1299.62" cy="922.48" r="2.25" fill="none" stroke="#00ff00" stroke-width="4.1"/>
<circle cx="1331.94" cy="935.81" r="2.25" fill="none" stroke="#00ff00" stroke-width="4.1"/>
<circle cx="1364.26" cy="928.06" r="2.25" fill="none" stroke="#00ff00" stroke-width="4.1"/>
<circle cx="1396.58" cy="894.56" r="2.25" fill="none" stroke="#00ff00" stroke-width="4.1"/>
<circle cx="1428.9" cy="845.2" r="2.25" fill="none" stroke="#00ff00" stroke-width="4.1"/>
<polyline points="976.42,1054.15 1008.74,1046.04 1041.06,1049.65 1073.38,1039.92 1105.7,1042.44 1138.02,1050.91 1170.34,1052.89 1202.66,1043.16 1234.98,1041.72 1267.3,1034.52 1299.62,1055.23 1331.94,1052.17 1364.26,1048.57 1396.58,1041.18 1428.9,1042.44" fill="none" stroke="#0000ff" stroke-width="4.1" stroke-linejoin="miter" stroke-dasharray="10.95 10.25"/>
<rect x="970.82" y="1048.55" width="11.2" height="11.2" fill="none" stroke="#0000ff" stroke-width="3.6"/>
<rect x="1003.14" y="1040.44" width="11.2" height="11.2" fill="none" stroke="#0000ff" stroke-width="3.6"/>
<rect x="1035.46" y="1044.05" width="11.2" height="11.2" fill="none" stroke="#0000ff" stroke-width="3.6"/>
<rect x="1067.78" y="1034.32" width="11.2" height="11.2" fill="none" stroke="#0000ff" stroke-width="3.6"/>
<rect x="1100.1" y="1036.84" width="11.2" height="11.2" fill="none" stroke="#0000ff" stroke-width="3.6"/>
<rect x="1132.42" y="1045.31" width="11.2" height="11.2" fill="none" stroke="#0000ff" stroke-width="3.6"/>
<rect x="1164.74" y="1047.29" width="11.2" height="11.2" fill="none" stroke="#0000ff" stroke-width="3.6"/>
<rect x="1197.06" y="1037.56" width="11.2" height="11.2" fill="none" stroke="#0000ff" stroke-width="3.6"/>
<rect x="1229.38" y="1036.12" width="11.2" height="11.2" fill="none" stroke="#0000ff" stroke-width="3.6"/>
<rect x="1261.7" y="1028.92" width="11.2" height="11.2" fill="none" stroke="#0000ff" stroke-width="3.6"/>
<rect x="1294.02" y="1049.63" width="11.2" height="11.2" fill="none" stroke="#0000ff" stroke-width="3.6"/>
<rect x="1326.34" y="1046.57" width="11.2" height="11.2" fill="none" stroke="#0000ff" stroke-width="3.6"/>
<rect x="1358.66" y="1042.97" width="11.2" height="11.2" fill="none" stroke="#0000ff" stroke-width="3.6"/>
<rect x="1390.98" y="1035.58" width="11.2" height="11.2" fill="none" stroke="#0000ff" stroke-width="3.6"/>
<rect x="1423.3" y="1036.84" width="11.2" height="11.2" fill="none" stroke="#0000ff" stroke-width="3.6"/>
<polyline points="976.42,1122.24 1008.74,1122.78 1041.06,1124.4 1073.38,1117.91 1105.7,1120.98 1138.02,1114.13 1170.34,1120.98 1202.66,1122.24 1234.98,1120.98 1267.3,1096.48 1299.62,1096.48 1331.94,1111.79 1364.26,1117.37 1396.58,1094.68 1428.9,1053.43" fill="none" stroke="#0000ff" stroke-width="4.1" stroke-linejoin="miter" stroke-dasharray="10.95 10.25"/>
<path d="M976.42 1115.44L982.72 1126.34H970.12Z" fill="#0000ff"/>
<path d="M1008.74 1115.98L1015.04 1126.88H1002.44Z" fill="#0000ff"/>
<path d="M1041.06 1117.6L1047.36 1128.5H1034.76Z" fill="#0000ff"/>
<path d="M1073.38 1111.11L1079.68 1122.01H1067.08Z" fill="#0000ff"/>
<path d="M1105.7 1114.18L1112 1125.08H1099.4Z" fill="#0000ff"/>
<path d="M1138.02 1107.33L1144.32 1118.23H1131.72Z" fill="#0000ff"/>
<path d="M1170.34 1114.18L1176.64 1125.08H1164.04Z" fill="#0000ff"/>
<path d="M1202.66 1115.44L1208.96 1126.34H1196.36Z" fill="#0000ff"/>
<path d="M1234.98 1114.18L1241.28 1125.08H1228.68Z" fill="#0000ff"/>
<path d="M1267.3 1089.68L1273.6 1100.58H1261Z" fill="#0000ff"/>
<path d="M1299.62 1089.68L1305.92 1100.58H1293.32Z" fill="#0000ff"/>
<path d="M1331.94 1104.99L1338.24 1115.89H1325.64Z" fill="#0000ff"/>
<path d="M1364.26 1110.57L1370.56 1121.47H1357.96Z" fill="#0000ff"/>
<path d="M1396.58 1087.88L1402.88 1098.78H1390.28Z" fill="#0000ff"/>
<path d="M1428.9 1046.63L1435.2 1057.53H1422.6Z" fill="#0000ff"/>
<polyline points="976.42,1049.65 1008.74,1042.44 1041.06,1047.3 1073.38,1032.17 1105.7,1035.78 1138.02,1036.86 1170.34,1044.78 1202.66,1039.2 1234.98,1035.06 1267.3,1005.34 1299.62,1025.33 1331.94,1036.86 1364.26,1038.66 1396.58,1007.5 1428.9,969.31" fill="none" stroke="#0000ff" stroke-width="4.1" stroke-linejoin="miter" stroke-dasharray="10.95 10.25"/>
<circle cx="976.42" cy="1049.65" r="2.25" fill="none" stroke="#0000ff" stroke-width="4.1"/>
<circle cx="1008.74" cy="1042.44" r="2.25" fill="none" stroke="#0000ff" stroke-width="4.1"/>
<circle cx="1041.06" cy="1047.3" r="2.25" fill="none" stroke="#0000ff" stroke-width="4.1"/>
<circle cx="1073.38" cy="1032.17" r="2.25" fill="none" stroke="#0000ff" stroke-width="4.1"/>
<circle cx="1105.7" cy="1035.78" r="2.25" fill="none" stroke="#0000ff" stroke-width="4.1"/>
<circle cx="1138.02" cy="1036.86" r="2.25" fill="none" stroke="#0000ff" stroke-width="4.1"/>
<circle cx="1170.34" cy="1044.78" r="2.25" fill="none" stroke="#0000ff" stroke-width="4.1"/>
<circle cx="1202.66" cy="1039.2" r="2.25" fill="none" stroke="#0000ff" stroke-width="4.1"/>
<circle cx="1234.98" cy="1035.06" r="2.25" fill="none" stroke="#0000ff" stroke-width="4.1"/>
<circle cx="1267.3" cy="1005.34" r="2.25" fill="none" stroke="#0000ff" stroke-width="4.1"/>
<circle cx="1299.62" cy="1025.33" r="2.25" fill="none" stroke="#0000ff" stroke-width="4.1"/>
<circle cx="1331.94" cy="1036.86" r="2.25" fill="none" stroke="#0000ff" stroke-width="4.1"/>
<circle cx="1364.26" cy="1038.66" r="2.25" fill="none" stroke="#0000ff" stroke-width="4.1"/>
<circle cx="1396.58" cy="1007.5" r="2.25" fill="none" stroke="#0000ff" stroke-width="4.1"/>
<circle cx="1428.9" cy="969.31" r="2.25" fill="none" stroke="#0000ff" stroke-width="4.1"/>
</g>
<path d="M1105.7 1127.1v-5.2M1105.7 838.9v5.2M1267.3 1127.1v-5.2M1267.3 838.9v5.2M944.1 1127.1h5.2M1428.9 1127.1h-5.2M944.1 1037.04h5.2M1428.9 1037.04h-5.2M944.1 946.97h5.2M1428.9 946.97h-5.2M944.1 856.91h5.2M1428.9 856.91h-5.2" stroke="#262626" stroke-width="1.3" fill="none"/>
<path d="M944.1 838.9H1428.9" fill="none" stroke="#262626" stroke-width="1.2"/>
<path d="M944.1 838.4V1127.1H1428.9V838.4" fill="none" stroke="#262626" stroke-width="1.75" stroke-linejoin="miter"/>
<text x="942.7" y="1146.8" font-size="20.7" text-anchor="middle" fill="#262626">0</text>
<text x="1104.4" y="1146.8" font-size="20.7" text-anchor="middle" fill="#262626">5</text>
<text x="1264.7" y="1146.8" font-size="20.7" text-anchor="middle" fill="#262626">10</text>
<text x="1426.3" y="1146.8" font-size="20.7" text-anchor="middle" fill="#262626">15</text>
<text x="933.1" y="1132.7" font-size="20.7" text-anchor="end" fill="#262626">0</text>
<text x="933.1" y="1042.64" font-size="20.7" text-anchor="end" fill="#262626">0.5</text>
<text x="933.1" y="952.57" font-size="20.7" text-anchor="end" fill="#262626">1</text>
<text x="933.1" y="862.51" font-size="20.7" text-anchor="end" fill="#262626">1.5</text>
<text x="1156.8" y="817.95" font-size="20.7" text-anchor="start" fill="#000">J=50</text>
<text x="1065.3" y="1175.7" font-size="20.7" text-anchor="start" fill="#262626">Simulation condition</text>
<text transform="translate(891 983) rotate(-90)" font-size="20.7" text-anchor="middle" fill="#262626" letter-spacing="-0.35">AL mean</text>
<path d="M1743.7 838.9V1127.1M1905.3 838.9V1127.1M1582.1 1037.04H2066.9M1582.1 946.97H2066.9M1582.1 856.91H2066.9" stroke="#262626" stroke-width="1.05" fill="none"/>
<clipPath id="c22"><rect x="1574.1" y="830.9" width="500.8" height="304.2"/></clipPath>
<g clip-path="url(#c22)">
<polyline points="1614.42,1048.93 1646.74,1050.91 1679.06,1048.57 1711.38,1055.77 1743.7,1042.44 1776.02,1037.58 1808.34,1044.78 1840.66,1043.16 1872.98,1048.57 1905.3,1046.04 1937.62,1027.85 1969.94,1047.3 2002.26,1053.43 2034.58,1046.04 2066.9,1041.18" fill="none" stroke="#00ff00" stroke-width="4.1" stroke-linejoin="miter"/>
<rect x="1608.82" y="1043.33" width="11.2" height="11.2" fill="none" stroke="#00ff00" stroke-width="3.6"/>
<rect x="1641.14" y="1045.31" width="11.2" height="11.2" fill="none" stroke="#00ff00" stroke-width="3.6"/>
<rect x="1673.46" y="1042.97" width="11.2" height="11.2" fill="none" stroke="#00ff00" stroke-width="3.6"/>
<rect x="1705.78" y="1050.17" width="11.2" height="11.2" fill="none" stroke="#00ff00" stroke-width="3.6"/>
<rect x="1738.1" y="1036.84" width="11.2" height="11.2" fill="none" stroke="#00ff00" stroke-width="3.6"/>
<rect x="1770.42" y="1031.98" width="11.2" height="11.2" fill="none" stroke="#00ff00" stroke-width="3.6"/>
<rect x="1802.74" y="1039.18" width="11.2" height="11.2" fill="none" stroke="#00ff00" stroke-width="3.6"/>
<rect x="1835.06" y="1037.56" width="11.2" height="11.2" fill="none" stroke="#00ff00" stroke-width="3.6"/>
<rect x="1867.38" y="1042.97" width="11.2" height="11.2" fill="none" stroke="#00ff00" stroke-width="3.6"/>
<rect x="1899.7" y="1040.44" width="11.2" height="11.2" fill="none" stroke="#00ff00" stroke-width="3.6"/>
<rect x="1932.02" y="1022.25" width="11.2" height="11.2" fill="none" stroke="#00ff00" stroke-width="3.6"/>
<rect x="1964.34" y="1041.7" width="11.2" height="11.2" fill="none" stroke="#00ff00" stroke-width="3.6"/>
<rect x="1996.66" y="1047.83" width="11.2" height="11.2" fill="none" stroke="#00ff00" stroke-width="3.6"/>
<rect x="2028.98" y="1040.44" width="11.2" height="11.2" fill="none" stroke="#00ff00" stroke-width="3.6"/>
<rect x="2061.3" y="1035.58" width="11.2" height="11.2" fill="none" stroke="#00ff00" stroke-width="3.6"/>
<polyline points="1614.42,1058.29 1646.74,1059.37 1679.06,1048.57 1711.38,1055.77 1743.7,1039.92 1776.02,1037.58 1808.34,1057.03 1840.66,1049.65 1872.98,1043.52 1905.3,1005.88 1937.62,1039.92 1969.94,1030.19 2002.26,1035.06 2034.58,1033.8 2066.9,946.25" fill="none" stroke="#00ff00" stroke-width="4.1" stroke-linejoin="miter"/>
<path d="M1614.42 1051.49L1620.72 1062.39H1608.12Z" fill="#00ff00"/>
<path d="M1646.74 1052.57L1653.04 1063.47H1640.44Z" fill="#00ff00"/>
<path d="M1679.06 1041.77L1685.36 1052.67H1672.76Z" fill="#00ff00"/>
<path d="M1711.38 1048.97L1717.68 1059.87H1705.08Z" fill="#00ff00"/>
<path d="M1743.7 1033.12L1750 1044.02H1737.4Z" fill="#00ff00"/>
<path d="M1776.02 1030.78L1782.32 1041.68H1769.72Z" fill="#00ff00"/>
<path d="M1808.34 1050.23L1814.64 1061.13H1802.04Z" fill="#00ff00"/>
<path d="M1840.66 1042.85L1846.96 1053.75H1834.36Z" fill="#00ff00"/>
<path d="M1872.98 1036.72L1879.28 1047.62H1866.68Z" fill="#00ff00"/>
<path d="M1905.3 999.08L1911.6 1009.98H1899Z" fill="#00ff00"/>
<path d="M1937.62 1033.12L1943.92 1044.02H1931.32Z" fill="#00ff00"/>
<path d="M1969.94 1023.39L1976.24 1034.29H1963.64Z" fill="#00ff00"/>
<path d="M2002.26 1028.26L2008.56 1039.16H1995.96Z" fill="#00ff00"/>
<path d="M2034.58 1027L2040.88 1037.9H2028.28Z" fill="#00ff00"/>
<path d="M2066.9 939.45L2073.2 950.35H2060.6Z" fill="#00ff00"/>
<polyline points="1614.42,980.84 1646.74,986.42 1679.06,971.83 1711.38,985.16 1743.7,955.44 1776.02,949.14 1808.34,975.98 1840.66,968.95 1872.98,966.25 1905.3,924.82 1937.62,940.85 1969.94,952.74 2002.26,960.84 2034.58,951.84 2066.9,859.79" fill="none" stroke="#00ff00" stroke-width="4.1" stroke-linejoin="miter"/>
<circle cx="1614.42" cy="980.84" r="2.25" fill="none" stroke="#00ff00" stroke-width="4.1"/>
<circle cx="1646.74" cy="986.42" r="2.25" fill="none" stroke="#00ff00" stroke-width="4.1"/>
<circle cx="1679.06" cy="971.83" r="2.25" fill="none" stroke="#00ff00" stroke-width="4.1"/>
<circle cx="1711.38" cy="985.16" r="2.25" fill="none" stroke="#00ff00" stroke-width="4.1"/>
<circle cx="1743.7" cy="955.44" r="2.25" fill="none" stroke="#00ff00" stroke-width="4.1"/>
<circle cx="1776.02" cy="949.14" r="2.25" fill="none" stroke="#00ff00" stroke-width="4.1"/>
<circle cx="1808.34" cy="975.98" r="2.25" fill="none" stroke="#00ff00" stroke-width="4.1"/>
<circle cx="1840.66" cy="968.95" r="2.25" fill="none" stroke="#00ff00" stroke-width="4.1"/>
<circle cx="1872.98" cy="966.25" r="2.25" fill="none" stroke="#00ff00" stroke-width="4.1"/>
<circle cx="1905.3" cy="924.82" r="2.25" fill="none" stroke="#00ff00" stroke-width="4.1"/>
<circle cx="1937.62" cy="940.85" r="2.25" fill="none" stroke="#00ff00" stroke-width="4.1"/>
<circle cx="1969.94" cy="952.74" r="2.25" fill="none" stroke="#00ff00" stroke-width="4.1"/>
<circle cx="2002.26" cy="960.84" r="2.25" fill="none" stroke="#00ff00" stroke-width="4.1"/>
<circle cx="2034.58" cy="951.84" r="2.25" fill="none" stroke="#00ff00" stroke-width="4.1"/>
<circle cx="2066.9" cy="859.79" r="2.25" fill="none" stroke="#00ff00" stroke-width="4.1"/>
<polyline points="1614.42,1050.91 1646.74,1048.93 1679.06,1047.3 1711.38,1052.17 1743.7,1044.78 1776.02,1039.92 1808.34,1045.5 1840.66,1048.57 1872.98,1051.63 1905.3,1044.78 1937.62,1032.71 1969.94,1046.76 2002.26,1048.03 2034.58,1044.06 2066.9,1041.72" fill="none" stroke="#0000ff" stroke-width="4.1" stroke-linejoin="miter" stroke-dasharray="10.95 10.25"/>
<rect x="1608.82" y="1045.31" width="11.2" height="11.2" fill="none" stroke="#0000ff" stroke-width="3.6"/>
<rect x="1641.14" y="1043.33" width="11.2" height="11.2" fill="none" stroke="#0000ff" stroke-width="3.6"/>
<rect x="1673.46" y="1041.7" width="11.2" height="11.2" fill="none" stroke="#0000ff" stroke-width="3.6"/>
<rect x="1705.78" y="1046.57" width="11.2" height="11.2" fill="none" stroke="#0000ff" stroke-width="3.6"/>
<rect x="1738.1" y="1039.18" width="11.2" height="11.2" fill="none" stroke="#0000ff" stroke-width="3.6"/>
<rect x="1770.42" y="1034.32" width="11.2" height="11.2" fill="none" stroke="#0000ff" stroke-width="3.6"/>
<rect x="1802.74" y="1039.9" width="11.2" height="11.2" fill="none" stroke="#0000ff" stroke-width="3.6"/>
<rect x="1835.06" y="1042.97" width="11.2" height="11.2" fill="none" stroke="#0000ff" stroke-width="3.6"/>
<rect x="1867.38" y="1046.03" width="11.2" height="11.2" fill="none" stroke="#0000ff" stroke-width="3.6"/>
<rect x="1899.7" y="1039.18" width="11.2" height="11.2" fill="none" stroke="#0000ff" stroke-width="3.6"/>
<rect x="1932.02" y="1027.11" width="11.2" height="11.2" fill="none" stroke="#0000ff" stroke-width="3.6"/>
<rect x="1964.34" y="1041.16" width="11.2" height="11.2" fill="none" stroke="#0000ff" stroke-width="3.6"/>
<rect x="1996.66" y="1042.43" width="11.2" height="11.2" fill="none" stroke="#0000ff" stroke-width="3.6"/>
<rect x="2028.98" y="1038.46" width="11.2" height="11.2" fill="none" stroke="#0000ff" stroke-width="3.6"/>
<rect x="2061.3" y="1036.12" width="11.2" height="11.2" fill="none" stroke="#0000ff" stroke-width="3.6"/>
<polyline points="1614.42,1122.78 1646.74,1123.5 1679.06,1122.78 1711.38,1123.5 1743.7,1123.5 1776.02,1109.81 1808.34,1122.24 1840.66,1122.78 1872.98,1122.78 1905.3,1109.27 1937.62,1090.35 1969.94,1113.05 2002.26,1116.65 2034.58,1109.27 2066.9,1069.1" fill="none" stroke="#0000ff" stroke-width="4.1" stroke-linejoin="miter" stroke-dasharray="10.95 10.25"/>
<path d="M1614.42 1115.98L1620.72 1126.88H1608.12Z" fill="#0000ff"/>
<path d="M1646.74 1116.7L1653.04 1127.6H1640.44Z" fill="#0000ff"/>
<path d="M1679.06 1115.98L1685.36 1126.88H1672.76Z" fill="#0000ff"/>
<path d="M1711.38 1116.7L1717.68 1127.6H1705.08Z" fill="#0000ff"/>
<path d="M1743.7 1116.7L1750 1127.6H1737.4Z" fill="#0000ff"/>
<path d="M1776.02 1103.01L1782.32 1113.91H1769.72Z" fill="#0000ff"/>
<path d="M1808.34 1115.44L1814.64 1126.34H1802.04Z" fill="#0000ff"/>
<path d="M1840.66 1115.98L1846.96 1126.88H1834.36Z" fill="#0000ff"/>
<path d="M1872.98 1115.98L1879.28 1126.88H1866.68Z" fill="#0000ff"/>
<path d="M1905.3 1102.47L1911.6 1113.37H1899Z" fill="#0000ff"/>
<path d="M1937.62 1083.55L1943.92 1094.45H1931.32Z" fill="#0000ff"/>
<path d="M1969.94 1106.25L1976.24 1117.15H1963.64Z" fill="#0000ff"/>
<path d="M2002.26 1109.85L2008.56 1120.75H1995.96Z" fill="#0000ff"/>
<path d="M2034.58 1102.47L2040.88 1113.37H2028.28Z" fill="#0000ff"/>
<path d="M2066.9 1062.3L2073.2 1073.2H2060.6Z" fill="#0000ff"/>
<polyline points="1614.42,1046.58 1646.74,1044.78 1679.06,1042.44 1711.38,1048.03 1743.7,1042.44 1776.02,1023.71 1808.34,1041.18 1840.66,1045.5 1872.98,1048.03 1905.3,1028.57 1937.62,997.41 1969.94,1033.07 2002.26,1038.3 2034.58,1025.33 2066.9,986.42" fill="none" stroke="#0000ff" stroke-width="4.1" stroke-linejoin="miter" stroke-dasharray="10.95 10.25"/>
<circle cx="1614.42" cy="1046.58" r="2.25" fill="none" stroke="#0000ff" stroke-width="4.1"/>
<circle cx="1646.74" cy="1044.78" r="2.25" fill="none" stroke="#0000ff" stroke-width="4.1"/>
<circle cx="1679.06" cy="1042.44" r="2.25" fill="none" stroke="#0000ff" stroke-width="4.1"/>
<circle cx="1711.38" cy="1048.03" r="2.25" fill="none" stroke="#0000ff" stroke-width="4.1"/>
<circle cx="1743.7" cy="1042.44" r="2.25" fill="none" stroke="#0000ff" stroke-width="4.1"/>
<circle cx="1776.02" cy="1023.71" r="2.25" fill="none" stroke="#0000ff" stroke-width="4.1"/>
<circle cx="1808.34" cy="1041.18" r="2.25" fill="none" stroke="#0000ff" stroke-width="4.1"/>
<circle cx="1840.66" cy="1045.5" r="2.25" fill="none" stroke="#0000ff" stroke-width="4.1"/>
<circle cx="1872.98" cy="1048.03" r="2.25" fill="none" stroke="#0000ff" stroke-width="4.1"/>
<circle cx="1905.3" cy="1028.57" r="2.25" fill="none" stroke="#0000ff" stroke-width="4.1"/>
<circle cx="1937.62" cy="997.41" r="2.25" fill="none" stroke="#0000ff" stroke-width="4.1"/>
<circle cx="1969.94" cy="1033.07" r="2.25" fill="none" stroke="#0000ff" stroke-width="4.1"/>
<circle cx="2002.26" cy="1038.3" r="2.25" fill="none" stroke="#0000ff" stroke-width="4.1"/>
<circle cx="2034.58" cy="1025.33" r="2.25" fill="none" stroke="#0000ff" stroke-width="4.1"/>
<circle cx="2066.9" cy="986.42" r="2.25" fill="none" stroke="#0000ff" stroke-width="4.1"/>
</g>
<path d="M1743.7 1127.1v-5.2M1743.7 838.9v5.2M1905.3 1127.1v-5.2M1905.3 838.9v5.2M1582.1 1127.1h5.2M2066.9 1127.1h-5.2M1582.1 1037.04h5.2M2066.9 1037.04h-5.2M1582.1 946.97h5.2M2066.9 946.97h-5.2M1582.1 856.91h5.2M2066.9 856.91h-5.2" stroke="#262626" stroke-width="1.3" fill="none"/>
<path d="M1582.1 838.9H2066.9" fill="none" stroke="#262626" stroke-width="1.2"/>
<path d="M1582.1 838.4V1127.1H2066.9V838.4" fill="none" stroke="#262626" stroke-width="1.75" stroke-linejoin="miter"/>
<text x="1580.7" y="1146.8" font-size="20.7" text-anchor="middle" fill="#262626">0</text>
<text x="1742.4" y="1146.8" font-size="20.7" text-anchor="middle" fill="#262626">5</text>
<text x="1902.7" y="1146.8" font-size="20.7" text-anchor="middle" fill="#262626">10</text>
<text x="2064.3" y="1146.8" font-size="20.7" text-anchor="middle" fill="#262626">15</text>
<text x="1571.1" y="1132.7" font-size="20.7" text-anchor="end" fill="#262626">0</text>
<text x="1571.1" y="1042.64" font-size="20.7" text-anchor="end" fill="#262626">0.5</text>
<text x="1571.1" y="952.57" font-size="20.7" text-anchor="end" fill="#262626">1</text>
<text x="1571.1" y="862.51" font-size="20.7" text-anchor="end" fill="#262626">1.5</text>
<text x="1794.8" y="817.95" font-size="20.7" text-anchor="start" fill="#000">J=80</text>
<text x="1703.3" y="1175.7" font-size="20.7" text-anchor="start" fill="#262626">Simulation condition</text>
<text transform="translate(1529 983) rotate(-90)" font-size="20.7" text-anchor="middle" fill="#262626" letter-spacing="-0.35">AL mean</text>
<rect x="53.9" y="45.8" width="134.4" height="62.4" fill="#fff" stroke="#262626" stroke-width="1.4"/>
<path d="M59.1 62.25H99.5" stroke="#00ff00" stroke-width="4.1" fill="none"/>
<path d="M59.1 91.35H99.5" stroke="#0000ff" stroke-width="4.1" fill="none" stroke-dasharray="10.95 10.25"/>
<text x="103" y="60.9" font-size="12.2" text-anchor="start" fill="#000" stroke="#000" stroke-width="0.25">L</text>
<text x="112.5" y="71" font-size="9.1" text-anchor="start" fill="#000" stroke="#000" stroke-width="0.25">speeded</text>
<text x="159.1" y="60.2" font-size="11.8" text-anchor="start" fill="#000" stroke="#000" stroke-width="0.25">=-1</text>
<text x="103" y="88.5" font-size="12.2" text-anchor="start" fill="#000" stroke="#000" stroke-width="0.25">L</text>
<text x="112.5" y="98.6" font-size="9.1" text-anchor="start" fill="#000" stroke="#000" stroke-width="0.25">speeded</text>
<text x="159.1" y="87.8" font-size="11.8" text-anchor="start" fill="#000" stroke="#000" stroke-width="0.25">=-2</text>
<rect x="46.9" y="444.5" width="135.5" height="62.4" fill="#fff" stroke="#262626" stroke-width="1.4"/>
<path d="M52.4 460.95H92.8" stroke="#00ff00" stroke-width="4.1" fill="none"/>
<path d="M52.4 490.05H92.8" stroke="#0000ff" stroke-width="4.1" fill="none" stroke-dasharray="10.95 10.25"/>
<text x="97" y="459.6" font-size="12.2" text-anchor="start" fill="#000" stroke="#000" stroke-width="0.25">L</text>
<text x="106" y="469.7" font-size="9.1" text-anchor="start" fill="#000" stroke="#000" stroke-width="0.25">speeded</text>
<text x="153.1" y="458.9" font-size="11.8" text-anchor="start" fill="#000" stroke="#000" stroke-width="0.25">=-1</text>
<text x="97" y="487.2" font-size="12.2" text-anchor="start" fill="#000" stroke="#000" stroke-width="0.25">L</text>
<text x="106" y="497.3" font-size="9.1" text-anchor="start" fill="#000" stroke="#000" stroke-width="0.25">speeded</text>
<text x="153.1" y="486.5" font-size="11.8" text-anchor="start" fill="#000" stroke="#000" stroke-width="0.25">=-2</text>
<rect x="0.4" y="751.1" width="257.9" height="177" fill="#fff" stroke="#262626" stroke-width="1.4"/>
<path d="M5.9 767.5H45.8" stroke="#00ff00" stroke-width="4.1" fill="none"/>
<rect x="20.9" y="761.9" width="11.2" height="11.2" fill="none" stroke="#00ff00" stroke-width="3.6"/>
<text x="49.9" y="765.9" font-size="12" text-anchor="start" fill="#000" stroke="#000" stroke-width="0.25">AL mean</text>
<text x="115.1" y="774.9" font-size="9.15" text-anchor="start" fill="#000" stroke="#000" stroke-width="0.25">warm-up</text>
<text x="162.3" y="767" font-size="12" text-anchor="start" fill="#000" stroke="#000" stroke-width="0.25">,</text>
<text x="169.7" y="767" font-size="12" text-anchor="start" fill="#000" stroke="#000" stroke-width="0.25">L</text>
<text x="181.6" y="776.5" font-size="9.15" text-anchor="start" fill="#000" stroke="#000" stroke-width="0.25">speeded</text>
<text x="228.8" y="764.8" font-size="11.8" text-anchor="start" fill="#000" stroke="#000" stroke-width="0.25">=-1</text>
<path d="M5.9 796.4H45.8" stroke="#00ff00" stroke-width="4.1" fill="none"/>
<path d="M26.5 789.6L32.8 800.5H20.2Z" fill="#00ff00"/>
<text x="49.9" y="792.9" font-size="12" text-anchor="start" fill="#000" stroke="#000" stroke-width="0.25">AL mean</text>
<text x="115.1" y="804.8" font-size="9.15" text-anchor="start" fill="#000" stroke="#000" stroke-width="0.25">speeded</text>
<text x="161.5" y="795" font-size="12" text-anchor="start" fill="#000" stroke="#000" stroke-width="0.25">,</text>
<text x="168.9" y="795" font-size="12" text-anchor="start" fill="#000" stroke="#000" stroke-width="0.25">L</text>
<text x="180.5" y="804.8" font-size="9.15" text-anchor="start" fill="#000" stroke="#000" stroke-width="0.25">speeded</text>
<text x="226.7" y="792.9" font-size="11.8" text-anchor="start" fill="#000" stroke="#000" stroke-width="0.25">=-1</text>
<path d="M5.9 824.8H45.8" stroke="#00ff00" stroke-width="4.1" fill="none"/>
<circle cx="26.5" cy="824.8" r="2.25" fill="none" stroke="#00ff00" stroke-width="4.1"/>
<text x="49.9" y="822.9" font-size="12" text-anchor="start" fill="#000" stroke="#000" stroke-width="0.25">AL mean</text>
<text x="115.1" y="831.7" font-size="9.15" text-anchor="start" fill="#000" stroke="#000" stroke-width="0.25">sum</text>
<text x="138.7" y="823.7" font-size="12" text-anchor="start" fill="#000" stroke="#000" stroke-width="0.25">,</text>
<text x="146.1" y="823.7" font-size="12" text-anchor="start" fill="#000" stroke="#000" stroke-width="0.25">L</text>
<text x="158" y="833.8" font-size="9.15" text-anchor="start" fill="#000" stroke="#000" stroke-width="0.25">speeded</text>
<text x="205" y="822.9" font-size="11.8" text-anchor="start" fill="#000" stroke="#000" stroke-width="0.25">=-1</text>
<path d="M5.9 854.2H45.8" stroke="#0000ff" stroke-width="4.1" fill="none" stroke-dasharray="10.95 10.25"/>
<rect x="20.9" y="848.6" width="11.2" height="11.2" fill="none" stroke="#0000ff" stroke-width="3.6"/>
<text x="49.9" y="851" font-size="12" text-anchor="start" fill="#000" stroke="#000" stroke-width="0.25">AL mean</text>
<text x="115.1" y="860.6" font-size="9.15" text-anchor="start" fill="#000" stroke="#000" stroke-width="0.25">warm-up</text>
<text x="162.3" y="851.8" font-size="12" text-anchor="start" fill="#000" stroke="#000" stroke-width="0.25">,</text>
<text x="169.7" y="851.8" font-size="12" text-anchor="start" fill="#000" stroke="#000" stroke-width="0.25">L</text>
<text x="181.6" y="861.8" font-size="9.15" text-anchor="start" fill="#000" stroke="#000" stroke-width="0.25">speeded</text>
<text x="229.2" y="850.7" font-size="11.8" text-anchor="start" fill="#000" stroke="#000" stroke-width="0.25">=-2</text>
<path d="M5.9 882.6H45.8" stroke="#0000ff" stroke-width="4.1" fill="none" stroke-dasharray="10.95 10.25"/>
<path d="M26.5 875.8L32.8 886.7H20.2Z" fill="#0000ff"/>
<text x="49.9" y="879.6" font-size="12" text-anchor="start" fill="#000" stroke="#000" stroke-width="0.25">AL mean</text>
<text x="115.1" y="892.2" font-size="9.15" text-anchor="start" fill="#000" stroke="#000" stroke-width="0.25">speeded</text>
<text x="161.5" y="881.8" font-size="12" text-anchor="start" fill="#000" stroke="#000" stroke-width="0.25">,</text>
<text x="168.9" y="881.8" font-size="12" text-anchor="start" fill="#000" stroke="#000" stroke-width="0.25">L</text>
<text x="181" y="892.2" font-size="9.15" text-anchor="start" fill="#000" stroke="#000" stroke-width="0.25">speeded</text>
<text x="226.7" y="879.8" font-size="11.8" text-anchor="start" fill="#000" stroke="#000" stroke-width="0.25">=-2</text>
<path d="M5.9 911.6H45.8" stroke="#0000ff" stroke-width="4.1" fill="none" stroke-dasharray="10.95 10.25"/>
<circle cx="26.5" cy="911.6" r="2.25" fill="none" stroke="#0000ff" stroke-width="4.1"/>
<text x="49.9" y="907.7" font-size="12" text-anchor="start" fill="#000" stroke="#000" stroke-width="0.25">AL mean</text>
<text x="115.1" y="917.7" font-size="9.15" text-anchor="start" fill="#000" stroke="#000" stroke-width="0.25">sum</text>
<text x="138.7" y="910" font-size="12" text-anchor="start" fill="#000" stroke="#000" stroke-width="0.25">,</text>
<text x="146.1" y="910" font-size="12" text-anchor="start" fill="#000" stroke="#000" stroke-width="0.25">L</text>
<text x="158" y="919.6" font-size="9.15" text-anchor="start" fill="#000" stroke="#000" stroke-width="0.25">speeded</text>
<text x="205" y="907.7" font-size="11.8" text-anchor="start" fill="#000" stroke="#000" stroke-width="0.25">=-2</text>
</svg>
</body></html>
